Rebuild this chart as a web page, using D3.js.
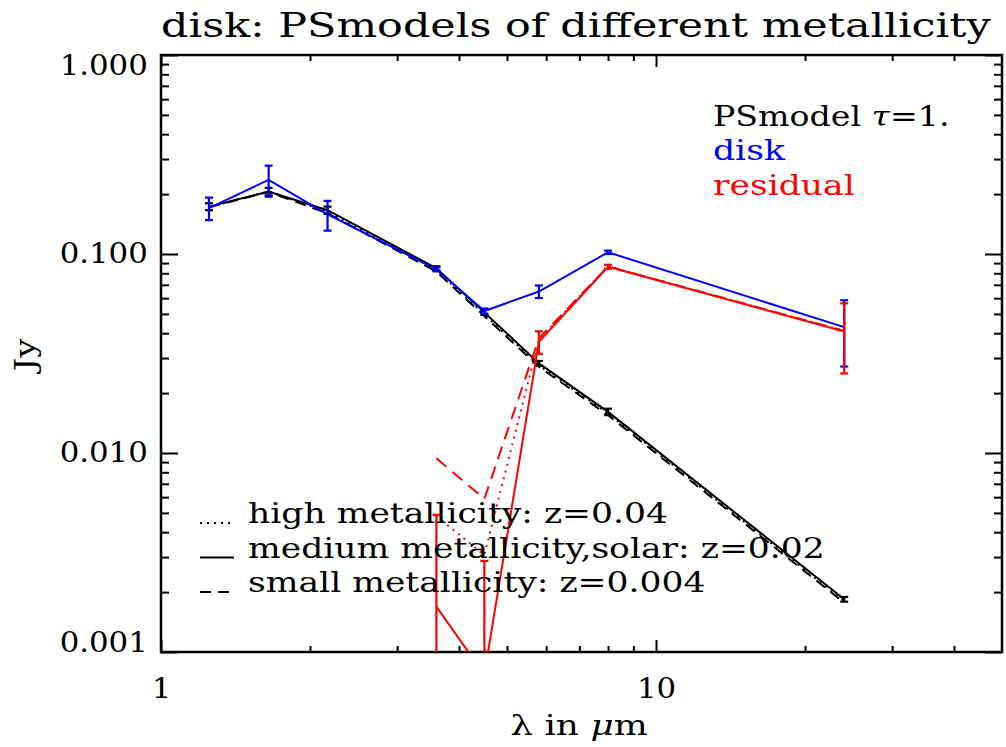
<!DOCTYPE html>
<html>
<head>
<meta charset="utf-8">
<script src="https://cdn.jsdelivr.net/npm/d3@7"></script>
<style>
  body { margin: 0; background: #fff; }
  svg { font-family: "DejaVu Serif", serif; }
</style>
</head>
<body>
<svg id="chart"></svg>
<script>
// wavelengths (micron) of the J H K / IRAC / MIPS bands
const wavelengths = [1.25, 1.65, 2.17, 3.6, 4.5, 5.8, 8.0, 24.0];
// disk fluxes (Jy) and errors
const diskFlux = [0.170, 0.236, 0.158, 0.0838, 0.0517, 0.0648, 0.102, 0.0429];
const diskErr = [0.022, 0.042, 0.027, 0.002, 0.0015, 0.0047, 0.002, 0.0157];
// PSmodel tau=1 for three metallicities
const modelMedium = [0.173, 0.206, 0.166, 0.0848, 0.0509, 0.0282, 0.0161, 0.00184];
const modelMediumErr = [0.007, 0.009, 0.007, 0.002, 0.0015, 0.0008, 0.0006, 0.00005];
const modelHigh = [0.172, 0.206, 0.163, 0.0832, 0.0497, 0.0276, 0.0158, 0.00180];
const modelSmall = [0.172, 0.205, 0.160, 0.0815, 0.0488, 0.0271, 0.0155, 0.00177];
// residual = disk - model (only from 3.6 micron on)
const residWave = [3.6, 4.5, 5.8, 8.0, 24.0];
const residMedium = [0.00169, 0.00077, 0.0362, 0.0863, 0.0408];
const residMediumErr = [0.0032, 0.0021, 0.0047, 0.002, 0.0157];
const residHigh = [0.00482, 0.00307, 0.0372, 0.0866, 0.0411];
const residSmall = [0.0094, 0.00588, 0.0377, 0.0865, 0.0411];

const xTicks = [1, 10];
const xMinor = [2, 3, 4, 5, 6, 7, 8, 9, 20, 30, 40];
const yTicks = [0.001, 0.01, 0.1, 1];
const yMinor = [];
[0.001, 0.01, 0.1].forEach((d) => {
  for (let k = 2; k <= 9; k++) yMinor.push(d * k);
});

const legendModels = [
  { label: "high metallicity: z=0.04", dash: "2,5" },
  { label: "medium metallicity,solar: z=0.02", dash: null },
  { label: "small metallicity: z=0.004", dash: "11,7" },
];

const width = 1006;
const height = 747;
const box = { left: 161, right: 1002, top: 55, bottom: 652 };
// the original font is much wider than DejaVu Serif
const stretch = 1.28;

const svg = d3.select("#chart").attr("width", width).attr("height", height);

const x = d3.scaleLog().domain([1, 50]).range([box.left, box.right]);
const y = d3.scaleLog().domain([0.001, 1]).range([box.bottom, box.top]);

// wide text placed at (px, py)
const wideText = (px, py, size, sx) =>
  svg
    .append("text")
    .attr("transform", `translate(${px}, ${py}) scale(${sx || stretch}, 1)`)
    .style("font-size", size + "px");

svg
  .append("defs")
  .append("clipPath")
  .attr("id", "plot-clip")
  .append("rect")
  .attr("x", box.left)
  .attr("y", box.top)
  .attr("width", box.right - box.left)
  .attr("height", box.bottom - box.top);

// title
wideText(box.left, 37, 33.5).text("disk: PSmodels of different metallicity");

// axes (ticks inside, like IDL)
const styleAxis = (g) => {
  g.select(".domain").remove();
  g.selectAll("line").attr("stroke", "#000").attr("stroke-width", 2);
  g.selectAll("text")
    .attr("fill", "#000")
    .attr("transform", "scale(1.1, 1)")
    .style("font-size", "28px")
    .style("font-family", "DejaVu Serif");
};

svg
  .append("g")
  .attr("transform", `translate(0, ${box.bottom})`)
  .call(d3.axisBottom(x).tickValues(xTicks).tickSize(-12).tickPadding(26).tickFormat(d3.format("d")))
  .call(styleAxis);
svg
  .append("g")
  .attr("transform", `translate(0, ${box.bottom})`)
  .call(d3.axisBottom(x).tickValues(xMinor).tickSize(-6).tickFormat(""))
  .call(styleAxis);
svg
  .append("g")
  .attr("transform", `translate(0, ${box.top})`)
  .call(d3.axisTop(x).tickValues(xTicks).tickSize(-12).tickFormat(""))
  .call(styleAxis);
svg
  .append("g")
  .attr("transform", `translate(0, ${box.top})`)
  .call(d3.axisTop(x).tickValues(xMinor).tickSize(-6).tickFormat(""))
  .call(styleAxis);

const yAxisG = svg
  .append("g")
  .attr("transform", `translate(${box.left}, 0)`)
  .call(d3.axisLeft(y).tickValues(yTicks).tickSize(-17).tickPadding(12).tickFormat(d3.format(".3f")))
  .call(styleAxis);
// IDL keeps the end labels inside the axis range
yAxisG.selectAll(".tick text").attr("y", (d) => (d === 1 ? 11 : d === 0.001 ? -9 : 0));

svg
  .append("g")
  .attr("transform", `translate(${box.left}, 0)`)
  .call(d3.axisLeft(y).tickValues(yMinor).tickSize(-8).tickFormat(""))
  .call(styleAxis);
svg
  .append("g")
  .attr("transform", `translate(${box.right}, 0)`)
  .call(d3.axisRight(y).tickValues(yTicks).tickSize(-17).tickFormat(""))
  .call(styleAxis);
svg
  .append("g")
  .attr("transform", `translate(${box.right}, 0)`)
  .call(d3.axisRight(y).tickValues(yMinor).tickSize(-8).tickFormat(""))
  .call(styleAxis);

svg
  .append("rect")
  .attr("x", box.left)
  .attr("y", box.top)
  .attr("width", box.right - box.left)
  .attr("height", box.bottom - box.top)
  .attr("fill", "none")
  .attr("stroke", "#000")
  .attr("stroke-width", 2.5);

// axis titles
const xTitle = wideText(579, 735, 27, 1.33).attr("text-anchor", "middle");
xTitle.append("tspan").text("λ in ");
xTitle.append("tspan").style("font-style", "italic").text("μ");
xTitle.append("tspan").text("m");

svg
  .append("text")
  .attr("transform", "translate(35, 355) rotate(-90) scale(1.25, 1)")
  .attr("text-anchor", "middle")
  .style("font-size", "27px")
  .text("Jy");

// data
const plot = svg.append("g").attr("clip-path", "url(#plot-clip)");

const line = d3
  .line()
  .x((d) => x(d[0]))
  .y((d) => y(Math.max(d[1], 1e-5)));

const drawSeries = (xs, ys, color, dash, widthPx) => {
  plot
    .append("path")
    .datum(xs.map((w, i) => [w, ys[i]]))
    .attr("d", line)
    .attr("fill", "none")
    .attr("stroke", color)
    .attr("stroke-width", widthPx || 2)
    .attr("stroke-dasharray", dash);
};

const drawErrors = (xs, ys, errs, color) => {
  const g = plot.append("g").attr("stroke", color).attr("stroke-width", 2.2);
  xs.forEach((w, i) => {
    const top = y(ys[i] + errs[i]);
    const bot = y(Math.max(ys[i] - errs[i], 1e-5));
    const cx = x(w);
    g.append("line").attr("x1", cx).attr("x2", cx).attr("y1", top).attr("y2", bot);
    g.append("line").attr("x1", cx - 4).attr("x2", cx + 4).attr("y1", top).attr("y2", top);
    g.append("line").attr("x1", cx - 4).attr("x2", cx + 4).attr("y1", bot).attr("y2", bot);
  });
};

drawSeries(wavelengths, modelHigh, "#000", "2,5");
drawSeries(wavelengths, modelSmall, "#000", "11,7");
drawSeries(wavelengths, modelMedium, "#000", null);
drawErrors(wavelengths, modelMedium, modelMediumErr, "#000");

drawSeries(wavelengths, diskFlux, "#0000ff", null);
drawErrors(wavelengths, diskFlux, diskErr, "#0000ff");

drawSeries(residWave, residHigh, "#ff0000", "2,5");
drawSeries(residWave, residSmall, "#ff0000", "13,8");
drawSeries(residWave, residMedium, "#ff0000", null);
drawErrors(residWave, residMedium, residMediumErr, "#ff0000");

// legend for the model lines
const legend = svg
  .selectAll(".legend")
  .data(legendModels)
  .enter()
  .append("g")
  .attr("class", "legend")
  .attr("transform", (d, i) => `translate(200, ${523 + i * 34.5})`);

legend
  .append("line")
  .attr("x1", 0)
  .attr("x2", 34)
  .attr("y1", 0)
  .attr("y2", 0)
  .attr("stroke", "#000")
  .attr("stroke-width", 2)
  .attr("stroke-dasharray", (d) => d.dash);

legend
  .append("text")
  .attr("transform", `translate(48, 0) scale(${stretch}, 1)`)
  .style("font-size", "27px")
  .text((d) => d.label);

// legend top right
const psText = wideText(713, 126, 27, 1.23);
psText.append("tspan").text("PSmodel ");
psText.append("tspan").style("font-style", "italic").text("τ");
psText.append("tspan").text("=1.");

wideText(713, 160, 27).attr("fill", "#0000ff").text("disk");
wideText(713, 195, 27).attr("fill", "#ff0000").text("residual");
</script>
</body>
</html>
